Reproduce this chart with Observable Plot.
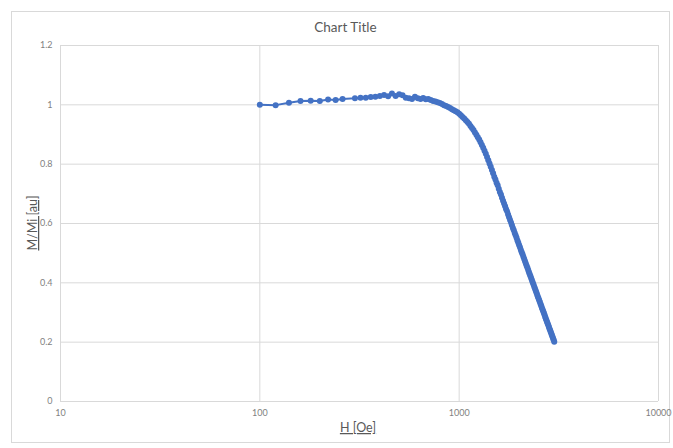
<!DOCTYPE html>
<html>
<head>
<meta charset="utf-8">
<script src="https://cdn.jsdelivr.net/npm/d3@7"></script>
<script src="https://cdn.jsdelivr.net/npm/@observablehq/plot@0.6"></script>
<style>
  html, body { margin: 0; padding: 0; background: #fff; }
  #chart {
    position: absolute; left: 11px; top: 11px;
    width: 659px; height: 432px; box-sizing: border-box;
    border: 1px solid #d9d9d9; background: #fff;
    font-family: Lato, "Open Sans", sans-serif;
  }
  #title {
    position: absolute; left: 0; top: 0; width: 100%;
    height: 30px; line-height: 30px; text-align: center;
    font-size: 13.5px; color: #595959; padding-left: 0;
    text-indent: 10px;
  }
  #chart svg { position: absolute; left: 0; top: 0; }
</style>
</head>
<body>
<div id="chart"><div id="title">Chart Title</div></div>
<script>
// Magnetic field H [Oe]
const H = [
  100,120,140,160,180,200,220,240,260,
  300,320,340,360,380,400,420,440,460,480,
  500,520,540,560,580,600,620,640,660,680,
  700,720,740,760,780,800,820,840,860,880,
  900,920,940,960,980,1000,1020,1040,1060,1080,
  1100,1120,1140,1160,1180,1200,1220,1240,1260,1280,
  1300,1320,1340,1360,1380,1400,1420,1440,1460,1480,
  1500,1520,1540,1560,1580,1600,1620,1640,1660,1680,
  1700,1720,1740,1760,1780,1800,1820,1840,1860,1880,
  1900,1920,1940,1960,1980,2000,2020,2040,2060,2080,
  2100,2120,2140,2160,2180,2200,2220,2240,2260,2280,
  2300,2320,2340,2360,2380,2400,2420,2440,2460,2480,
  2500,2520,2540,2560,2580,2600,2620,2640,2660,2680,
  2700,2720,2740,2760,2780,2800,2820,2840,2860,2880,
  2900,2920,2940,2960,2980,3000
];
// Normalised magnetisation M/Mi [au]
const M = [
  1.000,0.999,1.007,1.013,1.014,1.013,1.018,1.016,1.020,
  1.022,1.024,1.024,1.026,1.027,1.030,1.033,1.029,1.038,1.030,
  1.036,1.032,1.024,1.022,1.020,1.027,1.022,1.020,1.023,1.019,
  1.020,1.016,1.013,1.011,1.009,1.006,1.003,0.999,0.996,0.993,
  0.989,0.985,0.982,0.978,0.975,0.970,0.965,0.959,0.954,0.948,
  0.942,0.936,0.929,0.922,0.915,0.907,0.899,0.891,0.883,0.874,
  0.865,0.855,0.845,0.835,0.824,0.813,0.802,0.791,0.780,0.769,
  0.758,0.748,0.737,0.729,0.717,0.706,0.698,0.687,0.677,0.667,
  0.658,0.648,0.641,0.630,0.621,0.612,0.603,0.594,0.585,0.577,
  0.568,0.560,0.552,0.543,0.535,0.527,0.519,0.511,0.503,0.496,
  0.488,0.480,0.473,0.465,0.458,0.451,0.443,0.436,0.429,0.422,
  0.415,0.408,0.401,0.394,0.387,0.381,0.374,0.367,0.361,0.354,
  0.348,0.341,0.335,0.329,0.323,0.316,0.310,0.304,0.298,0.292,
  0.286,0.280,0.274,0.268,0.263,0.257,0.251,0.245,0.240,0.234,
  0.229,0.223,0.218,0.212,0.207,0.201
];
const xTicks = [10, 100, 1000, 10000];
const yTicks = [0, 0.2, 0.4, 0.6, 0.8, 1, 1.2];

const data = H.map((h, i) => ({H: h, M: M[i]}));
const blue = "#4472C4";
const grid = "#d9d9d9";
const txt = "#595959";

const chart = Plot.plot({
  width: 657,
  height: 430,
  marginLeft: 48,
  marginRight: 11,
  marginTop: 33,
  marginBottom: 41,
  style: {fontFamily: "Lato, 'Open Sans', sans-serif", background: "transparent", overflow: "visible"},
  x: {type: "log", domain: [10, 10000]},
  y: {domain: [0, 1.2]},
  marks: [
    Plot.gridX(xTicks, {stroke: grid, strokeOpacity: 1, strokeWidth: 1}),
    Plot.gridY(yTicks, {stroke: grid, strokeOpacity: 1, strokeWidth: 1}),
    Plot.axisX(xTicks, {tickSize: 0, tickPadding: 8, tickFormat: d => String(d), fontSize: 9, fill: "#7f7f7f", label: null}),
    Plot.axisY(yTicks, {tickSize: 0, tickPadding: 8, tickFormat: d => String(d), fontSize: 9, fill: "#7f7f7f", label: null}),
    Plot.line(data, {x: "H", y: "M", stroke: blue, strokeWidth: 2}),
    Plot.dot(data, {x: "H", y: "M", r: 3, fill: blue, stroke: null})
  ]
});

const svg = d3.select(chart);
// Axis titles (underlined, as in the reference)
svg.append("text")
  .attr("x", 346).attr("y", 420)
  .attr("text-anchor", "middle")
  .attr("fill", txt).attr("font-size", 12.5)
  .attr("text-decoration", "underline")
  .text("H [Oe]");
svg.append("text")
  .attr("transform", "translate(25,211) rotate(-90)")
  .attr("text-anchor", "middle")
  .attr("fill", txt).attr("font-size", 12.5)
  .attr("text-decoration", "underline")
  .text("M/Mi [au]");

document.getElementById("chart").appendChild(chart);
</script>
</body>
</html>
